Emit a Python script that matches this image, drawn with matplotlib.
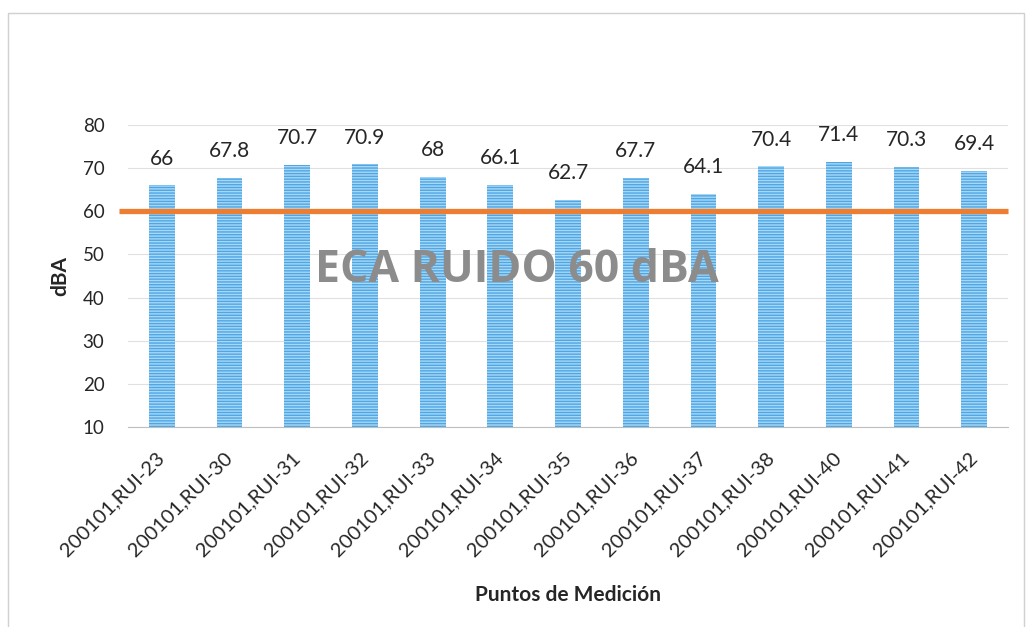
import numpy as np
import matplotlib.pyplot as plt
import matplotlib.transforms as mtransforms
from matplotlib.patches import Rectangle

# data to plot
puntos = ['200101,RUI-23', '200101,RUI-30', '200101,RUI-31', '200101,RUI-32',
          '200101,RUI-33', '200101,RUI-34', '200101,RUI-35', '200101,RUI-36',
          '200101,RUI-37', '200101,RUI-38', '200101,RUI-40', '200101,RUI-41',
          '200101,RUI-42']
nivel_dba = [66, 67.8, 70.7, 70.9, 68, 66.1, 62.7, 67.7, 64.1, 70.4, 71.4, 70.3, 69.4]
eca_ruido = 60

plt.rcParams['font.family'] = ['Lato', 'DejaVu Sans']
plt.rcParams['hatch.linewidth'] = 1.0

fig = plt.figure(figsize=(10.26, 6.27), dpi=100)
ax = fig.add_axes([0.1248, 0.319, 0.8577, 0.4817])

# light border around the chart area
fig.patches.append(Rectangle((0.008, -0.01), 0.99, 0.99, transform=fig.transFigure,
                             fill=False, edgecolor='#d0d0d0', linewidth=1.0))

index = np.arange(len(puntos))
rects = ax.bar(index, nivel_dba, 0.38, color='#a7d8f7', edgecolor='#4fa6e3',
               linewidth=0, hatch='------', zorder=2)

for rect, v in zip(rects, nivel_dba):
    ax.annotate('%g' % v, (rect.get_x() + rect.get_width() / 2, v),
                xytext=(0, 12), textcoords='offset points',
                ha='center', va='bottom', fontsize=15, color='#262626')

# ECA limit line, slightly longer than the plot area on the left
trans = mtransforms.blended_transform_factory(ax.transAxes, ax.transData)
ax.plot([-0.01, 1.0], [eca_ruido, eca_ruido], color='#ed7d31', linewidth=3.8,
        transform=trans, clip_on=False, zorder=3, solid_capstyle='butt')

ax.text(5.25, 46.2, 'ECA RUIDO 60 dBA', ha='center', va='center',
        fontsize=32, fontweight='bold', color='#8c8c8c', zorder=4,
        family=['Open Sans', 'DejaVu Sans'])

ax.set_xlim(-0.5, len(puntos) - 0.5)
ax.set_ylim(10, 80)
ax.set_yticks(range(10, 81, 10))
ax.yaxis.grid(True, color='#e0e0e0', linewidth=0.8, zorder=0)
ax.set_axisbelow(True)

ax.set_xticks(index)
ax.set_xticklabels(puntos, rotation=45, ha='right', va='center',
                   rotation_mode='anchor', fontsize=14.5, color='#262626')
ax.tick_params(axis='x', length=0, pad=20)
ax.tick_params(axis='y', length=0, pad=17, labelsize=13.5, labelcolor='#262626')

for s in ['top', 'right', 'left']:
    ax.spines[s].set_visible(False)
ax.spines['bottom'].set_color('#bfbfbf')

ax.set_ylabel('dBA', fontsize=15, fontweight='bold', color='#262626', labelpad=9)
ax.set_xlabel('Puntos de Medición', fontsize=15, fontweight='bold', color='#262626',
              labelpad=19)

fig.savefig('out.png', dpi=100)
